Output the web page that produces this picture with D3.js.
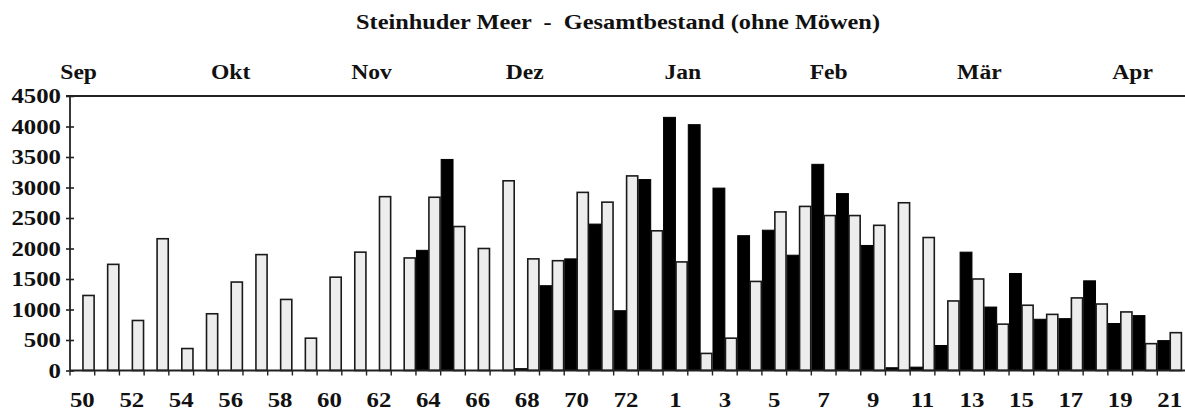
<!DOCTYPE html>
<html><head><meta charset="utf-8">
<script src="https://cdn.jsdelivr.net/npm/d3@7"></script>
<style>
html,body{margin:0;padding:0;background:#fff;}
text{font-family:"Liberation Serif","Times New Roman",serif;font-weight:bold;fill:#111;}
</style></head>
<body><svg id="c" width="1185" height="416"></svg>
<script>
const pentads = ["50","51","52","53","54","55","56","57","58","59","60","61","62","63","64","65","66","67","68","69","70","71","72","73",
"1","2","3","4","5","6","7","8","9","10","11","12","13","14","15","16","17","18","19","20","21"];
// light (right bar in each pentad)
const lightVals = [1230,1740,820,2160,360,930,1450,1900,1165,530,1530,1940,2850,1845,2840,2360,2000,3110,1830,1800,2920,2760,3190,2290,
1780,280,530,1460,2600,2690,2540,2540,2380,2750,2180,1140,1500,760,1070,920,1190,1090,960,440,620];
// black (left bar in each pentad)
const blackVals = [0,0,0,0,0,0,0,0,0,0,0,0,0,0,1970,3460,0,0,30,1390,1830,2400,980,3130,
4150,4030,2990,2210,2300,1890,3380,2900,2050,45,55,410,1940,1040,1590,840,850,1470,770,900,490];
const yTicks = [0,500,1000,1500,2000,2500,3000,3500,4000,4500];
const xLabels = ["50","52","54","56","58","60","62","64","66","68","70","72","1","3","5","7","9","11","13","15","17","19","21"];
const months = ["Sep","Okt","Nov","Dez","Jan","Feb","Mär","Apr"];
const monthAt = [0.35,6.5,12.2,18.4,24.8,30.7,36.8,43.0]; // in pentad units along the x axis
const title = "Steinhuder Meer  -  Gesamtbestand (ohne Möwen)";

const svg = d3.select("#c");
const L = 70, R = 1182, T = 96, B = 370.5;
const x = d3.scaleBand().domain(pentads).range([L, R]).padding(0);
const xc = d3.scaleLinear().domain([0, pentads.length]).range([L, R]);
const y = d3.scaleLinear().domain([0, 4500]).range([B, T]);
const bw = x.bandwidth();
const SX = 1.18;

function stretchText(g, txt, px, py, size, anchor){
  return g.append("text").attr("transform", `translate(${px},${py}) scale(${SX},1)`)
    .attr("text-anchor", anchor).style("font-size", size + "px").text(txt);
}

// title
svg.append("text").attr("x", 618).attr("y", 29).attr("text-anchor","middle")
  .style("font-size","21px").style("white-space","pre").attr("xml:space","preserve")
  .attr("textLength", 524).attr("lengthAdjust","spacingAndGlyphs").text(title);

// months
months.forEach((m,i)=> stretchText(svg, m, xc(monthAt[i]), 79, 20, "middle"));

// bars
const g = svg.append("g");
g.selectAll("rect.blk").data(pentads.map((p,i)=>({p, v:blackVals[i]}))).join("rect")
  .attr("class","blk")
  .attr("x", d=>x(d.p)+0.5).attr("width", bw/2-0.5)
  .attr("y", d=>y(d.v)).attr("height", d=>B - y(d.v))
  .attr("fill","#000").attr("stroke","#000").attr("stroke-width",1);
g.selectAll("rect.lt").data(pentads.map((p,i)=>({p, v:lightVals[i]}))).join("rect")
  .attr("class","lt")
  .attr("x", d=>x(d.p)+bw/2+0.6).attr("width", bw/2-1.2)
  .attr("y", d=>y(d.v)).attr("height", d=>B - y(d.v))
  .attr("fill","#ededed").attr("stroke","#1a1a1a").attr("stroke-width",1.6);

// top line
svg.append("line").attr("x1", L-4).attr("x2", 1185).attr("y1", T).attr("y2", T)
  .attr("stroke","#222").attr("stroke-width",1.8);

// y axis
const ya = svg.append("g").attr("transform",`translate(${L},0)`)
  .call(d3.axisLeft(y).tickValues(yTicks).tickSize(4).tickFormat(d3.format("d")));
ya.select(".domain").remove();
ya.selectAll(".tick line").attr("x1",-4).attr("x2",4).attr("stroke","#222").attr("stroke-width",1.6);
ya.selectAll(".tick text").remove();
yTicks.forEach(v=> stretchText(svg, String(v), 61, y(v)+7, 21, "end"));
svg.append("line").attr("x1",L).attr("x2",L).attr("y1",T).attr("y2",B)
  .attr("stroke","#222").attr("stroke-width",1.8);

// x axis
svg.append("line").attr("x1",L).attr("x2",R+3).attr("y1",B).attr("y2",B)
  .attr("stroke","#222").attr("stroke-width",1.8);
svg.append("g").selectAll("line").data(pentads).join("line")
  .attr("x1", d=>x(d)).attr("x2", d=>x(d)).attr("y1", B).attr("y2", B+5)
  .attr("stroke","#222").attr("stroke-width",1.4);
xLabels.forEach(l=> stretchText(svg, l, x(l)+bw/2, 407, 21, "middle"));
</script></body></html>
